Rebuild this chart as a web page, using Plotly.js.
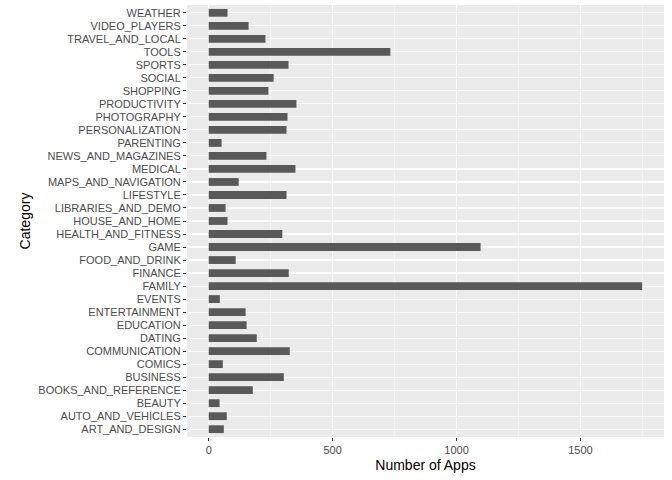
<!DOCTYPE html><html><head><script src="https://cdn.plot.ly/plotly-3.0.1.min.js"></script></head><body style="margin:0"><div id="c" style="width:672px;height:480px"></div><script>
const categories=["ART_AND_DESIGN","AUTO_AND_VEHICLES","BEAUTY","BOOKS_AND_REFERENCE","BUSINESS","COMICS","COMMUNICATION","DATING","EDUCATION","ENTERTAINMENT","EVENTS","FAMILY","FINANCE","FOOD_AND_DRINK","GAME","HEALTH_AND_FITNESS","HOUSE_AND_HOME","LIBRARIES_AND_DEMO","LIFESTYLE","MAPS_AND_NAVIGATION","MEDICAL","NEWS_AND_MAGAZINES","PARENTING","PERSONALIZATION","PHOTOGRAPHY","PRODUCTIVITY","SHOPPING","SOCIAL","SPORTS","TOOLS","TRAVEL_AND_LOCAL","VIDEO_PLAYERS","WEATHER"];
const counts=[61,73,44,178,303,57,327,194,153,149,45,1749,323,109,1097,297,76,68,314,121,350,233,52,314,318,354,241,262,322,733,229,161,76];
Plotly.newPlot('c',[{type:'bar',orientation:'h',y:categories,x:counts,width:0.6,marker:{color:'#595959'},hoverinfo:'none'}],{
width:672,height:480,paper_bgcolor:'white',plot_bgcolor:'#ebebeb',
margin:{l:187,r:8,t:5,b:43},showlegend:false,
font:{family:'Liberation Sans, Arial',size:11,color:'#4d4d4d'},
xaxis:{range:[-87.5,1837],tickvals:[0,500,1000,1500],gridcolor:'white',gridwidth:1.1,zeroline:false,ticks:'outside',ticklen:3,tickcolor:'#333',
 minor:{tickvals:[250,750,1250,1750],gridcolor:'white',gridwidth:0.5,ticks:''},
 title:{text:'Number of Apps',font:{size:14,color:'black'},standoff:4}},
yaxis:{type:'category',categoryorder:'array',categoryarray:categories,range:[-0.6,32.6],gridcolor:'white',gridwidth:1.1,ticks:'outside',ticklen:3,tickcolor:'#333',
 title:{text:'Category',font:{size:14,color:'black'},standoff:4}}
},{staticPlot:true});
</script></body></html>
